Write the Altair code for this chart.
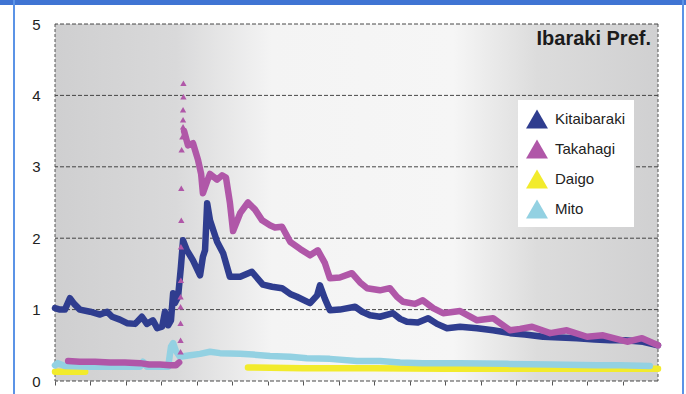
import altair as alt
import pandas as pd

# Air dose rate readings per station, time index (t) vs. value (v)
series_names = ["Kitaibaraki", "Takahagi", "Daigo", "Mito"]
series_colors = ["#2f3d8f", "#b057a8", "#f2eb2c", "#93d1e2"]

kita_t = [0, 1.4, 2.8, 4.2, 5.4, 7.0, 9.9, 12.7, 14.7, 16.1, 18.3, 20.3, 22.6, 24.5, 25.9,
          27.6, 28.8, 30.2, 31.0, 31.9, 32.7, 33.3, 33.8, 34.7, 35.5, 36.1, 37.2, 38.9, 40.9,
          41.7, 42.3, 42.9, 43.7, 45.7, 47.4, 49.3, 52.2, 55.5, 58.6, 61.2, 64.0, 66.3, 68.2,
          71.9, 73.9, 74.7, 76.1, 77.5, 80.3, 84.6, 86.6, 88.8, 91.6, 95.3, 97.3, 99.2, 102.3,
          105.2, 107.7, 110.5, 114.2, 119.0, 123.5, 128.3, 132.5, 137.6, 142.4, 147.2, 152.2,
          156.5, 160.7, 165.8, 170.0]
kita_v = [1.02, 1.00, 1.00, 1.16, 1.08, 1.00, 0.97, 0.93, 0.97, 0.90, 0.86, 0.81, 0.80, 0.90, 0.80,
          0.85, 0.74, 0.76, 0.97, 0.78, 0.85, 1.23, 1.09, 1.18, 1.60, 1.97, 1.83, 1.69, 1.48,
          1.74, 1.83, 2.49, 2.25, 1.95, 1.79, 1.46, 1.46, 1.53, 1.35, 1.32, 1.30, 1.22, 1.18,
          1.09, 1.20, 1.34, 1.15, 0.99, 1.00, 1.04, 0.97, 0.92, 0.90, 0.95, 0.87, 0.83, 0.82,
          0.88, 0.80, 0.74, 0.76, 0.74, 0.71, 0.67, 0.65, 0.62, 0.61, 0.60, 0.58,
          0.57, 0.57, 0.55, 0.50]

# Takahagi: before the jump, isolated readings during the jump, and after it
taka_pre_t = [3.7, 7.0, 11.3, 15.5, 19.7, 24.0, 26.5, 29.6, 32.4, 34.1, 35.0]
taka_pre_v = [0.28, 0.27, 0.27, 0.26, 0.26, 0.25, 0.23, 0.23, 0.22, 0.22, 0.26]
taka_jump_t = [35.4, 35.4, 35.4, 35.4, 35.4, 35.5, 35.5, 35.6, 35.6, 35.7, 35.9, 36.1, 36.1,
               36.1, 36.2, 36.2]
taka_jump_v = [0.41, 0.57, 0.81, 1.04, 1.18, 1.41, 1.88, 2.25, 2.70, 3.24, 3.42, 3.56, 3.66,
               3.80, 3.98, 4.17]
taka_post_t = [36.4, 37.5, 38.9, 40.3, 41.2, 41.7, 42.9, 43.7, 45.7, 47.1, 48.2, 49.3, 50.2,
               52.2, 54.4, 56.4, 58.4, 60.6, 62.0, 64.0, 66.3, 69.1, 71.9, 74.1, 76.1, 77.5,
               80.3, 83.7, 86.0, 88.0, 91.6, 94.4, 96.4, 98.1, 101.5, 103.7, 106.6, 109.4,
               114.2, 119.0, 123.5, 128.3, 131.1, 134.5, 139.6, 144.3, 150.0, 154.5, 161.3,
               165.5, 170.0]
taka_post_v = [3.50, 3.30, 3.33, 3.10, 2.90, 2.63, 2.80, 2.90, 2.82, 2.88, 2.85, 2.50, 2.10,
               2.35, 2.50, 2.40, 2.25, 2.18, 2.15, 2.16, 1.95, 1.85, 1.76, 1.83, 1.65, 1.44,
               1.45, 1.51, 1.38, 1.30, 1.27, 1.30, 1.18, 1.11, 1.08, 1.13, 1.02, 0.95,
               0.98, 0.85, 0.88, 0.71, 0.73, 0.76, 0.67, 0.71, 0.62, 0.64, 0.55,
               0.60, 0.50]

daigo_t = [0, 8.5, 54.4, 70, 90, 110, 130, 150, 170]
daigo_v = [0.13, 0.13, 0.19, 0.18, 0.18, 0.17, 0.17, 0.17, 0.17]
daigo_seg = [0, 0, 1, 1, 1, 1, 1, 1, 1]

mito_t = [0, 0.8, 2.8, 9.9, 18.3, 24.0, 24.8, 25.9, 31.9, 32.7, 33.3, 34.1, 35.2, 38.1, 40.9,
          43.7, 46.5, 52.2, 55.8, 60.6, 66.3, 71.0, 77.5, 85.1, 91.6, 97.3, 103.7, 114.2,
          127.4, 139.6, 152.8, 159.3, 167.7]
mito_v = [0.22, 0.25, 0.21, 0.20, 0.20, 0.20, 0.27, 0.20, 0.20, 0.48, 0.53, 0.42, 0.34, 0.36, 0.38,
          0.41, 0.39, 0.38, 0.37, 0.35, 0.34, 0.32, 0.31, 0.28, 0.28, 0.26, 0.25, 0.25,
          0.24, 0.23, 0.22, 0.22, 0.21]

y_ticks = [0, 1, 2, 3, 4, 5]
x_ticks = list(range(0, 170, 10))
x_bounds = [0, 170]

W, H = 603, 357


def frame(name, t, v, seg):
    return pd.DataFrame({"series": name, "t": t, "v": v, "seg": seg})


lines = pd.concat([
    frame("Daigo", daigo_t, daigo_v, daigo_seg),
    frame("Mito", mito_t, mito_v, 0),
    frame("Kitaibaraki", kita_t, kita_v, 0),
    frame("Takahagi", taka_pre_t, taka_pre_v, 0),
    frame("Takahagi", taka_post_t, taka_post_v, 1),
], ignore_index=True)
jump = frame("Takahagi", taka_jump_t, taka_jump_v, 0)
one = pd.DataFrame({"k": [0]})
grid_y = pd.DataFrame({"v": y_ticks})
grid_x = pd.DataFrame({"t": x_bounds})

x_scale = alt.Scale(domain=[0, 170], nice=False, zero=False)
y_scale = alt.Scale(domain=[0, 5], nice=False)
x_axis = alt.Axis(values=x_ticks, labels=False, ticks=True, tickSize=4, tickColor="#555",
                  grid=False, domain=False, title=None)
y_axis = alt.Axis(values=y_ticks, grid=False, domain=False, ticks=False,
                  labelFont="Liberation Sans", labelFontSize=15,
                  labelColor="#222", labelPadding=15, title=None)

# plot-area shading: grey at both sides, pale in the middle
shade = alt.Gradient(
    gradient="linear", x1=0, x2=1, y1=0, y2=0,
    stops=[alt.GradientStop(color="#cfcfd0", offset=0),
           alt.GradientStop(color="#d9d9da", offset=0.2),
           alt.GradientStop(color="#f4f4f4", offset=0.36),
           alt.GradientStop(color="#f6f6f6", offset=0.66),
           alt.GradientStop(color="#dcdcdc", offset=0.8),
           alt.GradientStop(color="#d0d0d1", offset=1)])
background = alt.Chart(one).mark_rect(fill=shade).encode(
    x=alt.value(0), x2=alt.value(W), y=alt.value(0), y2=alt.value(H))

# dashed grid lines and plot border
h_rules = alt.Chart(grid_y).mark_rule(color="#333", strokeDash=[4, 2], strokeWidth=0.9).encode(
    y=alt.Y("v:Q", scale=y_scale, axis=y_axis))
v_rules = alt.Chart(grid_x).mark_rule(color="#444", strokeDash=[3, 2], strokeWidth=0.9).encode(
    x=alt.X("t:Q", scale=x_scale, axis=x_axis))

# blue page frame around the figure
top_band = alt.Chart(one).mark_rect(color="#3f74d3").encode(
    x=alt.value(-55), x2=alt.value(631), y=alt.value(-24), y2=alt.value(-19))
left_edge = alt.Chart(one).mark_rect(color="#5b93e6").encode(
    x=alt.value(-42), x2=alt.value(-40), y=alt.value(-24), y2=alt.value(H + 13))
right_edge = alt.Chart(one).mark_rect(color="#5b93e6").encode(
    x=alt.value(627), x2=alt.value(629), y=alt.value(-24), y2=alt.value(H + 13))


def series_line(name):
    color = series_colors[series_names.index(name)]
    return alt.Chart(lines).transform_filter(alt.datum.series == name).mark_line(
        strokeWidth=6.5, strokeJoin="round", strokeCap="round", color=color
    ).encode(
        x=alt.X("t:Q", scale=x_scale, axis=x_axis),
        y=alt.Y("v:Q", scale=y_scale, axis=y_axis),
        detail="seg:N",
    )


jump_points = alt.Chart(jump).mark_point(shape="triangle-up", filled=True, size=40, opacity=1).encode(
    x=alt.X("t:Q", scale=x_scale, axis=x_axis),
    y=alt.Y("v:Q", scale=y_scale, axis=y_axis),
    fill=alt.Fill("series:N", scale=alt.Scale(domain=series_names, range=series_colors),
                  legend=alt.Legend(orient="none", legendX=463, legendY=76, title=None,
                                    symbolType="triangle-up", symbolSize=480,
                                    symbolStrokeWidth=0, symbolOpacity=1,
                                    labelFont="Liberation Sans", labelFontSize=15,
                                    labelColor="#222", labelOffset=7, rowPadding=9,
                                    padding=8, fillColor="white")),
)

label = alt.Chart(one).mark_text(
    text="Ibaraki Pref.", font="Liberation Sans", fontSize=20, fontWeight="bold",
    align="right", baseline="alphabetic", color="#1b1b1b"
).encode(x=alt.value(596), y=alt.value(21))

chart = alt.layer(
    background, h_rules, v_rules, top_band, left_edge, right_edge,
    series_line("Daigo"), series_line("Mito"), series_line("Kitaibaraki"),
    series_line("Takahagi"), jump_points, label,
).properties(
    width=W, height=H, background="white",
    autosize=alt.AutoSizeParams(type="none"),
    padding={"left": 55, "top": 24, "right": 28, "bottom": 13},
).configure_view(stroke=None)

chart.save("out.html", embed_options={"renderer": "svg", "actions": False})
